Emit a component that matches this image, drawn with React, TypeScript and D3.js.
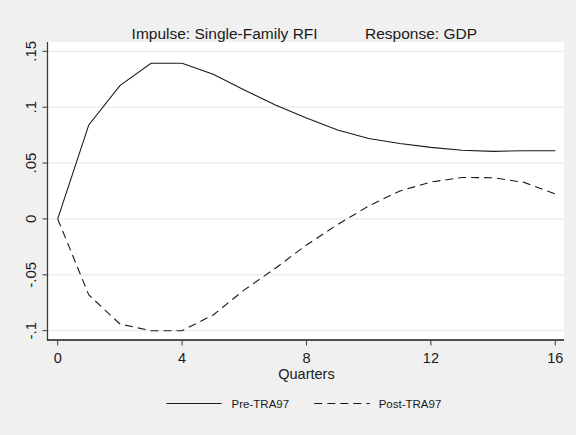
import React from "react";
import * as d3 from "d3";

// Impulse-response values by quarter
const quarters = [0, 1, 2, 3, 4, 5, 6, 7, 8, 9, 10, 11, 12, 13, 14, 15, 16];
const preTRA97 = [0, 0.0841, 0.1193, 0.1393, 0.1393, 0.1295, 0.1154, 0.102, 0.0903, 0.0795, 0.072, 0.0675, 0.064, 0.0615, 0.0605, 0.061, 0.061];
const postTRA97 = [0, -0.068, -0.094, -0.1, -0.1, -0.0859, -0.0635, -0.0441, -0.0233, -0.005, 0.0116, 0.025, 0.033, 0.0371, 0.0369, 0.0327, 0.0224];

const yTicks = [0.15, 0.1, 0.05, 0, -0.05, -0.1];
const yTickLabels = [".15", ".1", ".05", "0", "-.05", "-.1"];
const xTicks = [0, 4, 8, 12, 16];

const titleLeft = "Impulse: Single-Family RFI";
const titleRight = "Response: GDP";
const xAxisTitle = "Quarters";
const seriesNames = ["Pre-TRA97", "Post-TRA97"];

const W = 576;
const H = 435;
const plot = { left: 48, right: 564, top: 42, bottom: 340 };
const font = "Arial, 'Liberation Sans', sans-serif";
const ink = "#1a1a1a";

export default function App() {
  const x = d3.scaleLinear().domain([0, 16]).range([57.7, 555.3]);
  const y = d3.scaleLinear().domain([-0.1, 0.15]).range([330.7, 51.3]);

  const line = d3
    .line<number>()
    .x((_, i) => x(quarters[i]))
    .y((d) => y(d));

  const dash = "8,5";

  return (
    <svg
      width={W}
      height={H}
      style={{ position: "absolute", left: 0, top: 0, display: "block" }}
      fontFamily={font}
    >
      <rect x={0} y={0} width={W} height={H} fill="#f0f0f0" />
      <rect
        x={plot.left}
        y={plot.top}
        width={plot.right - plot.left}
        height={plot.bottom - plot.top}
        fill="#ffffff"
      />

      {/* horizontal grid */}
      {yTicks.map((t) => (
        <line
          key={"g" + t}
          x1={plot.left}
          x2={plot.right}
          y1={y(t)}
          y2={y(t)}
          stroke="#e6e6e6"
          strokeWidth={1}
        />
      ))}

      {/* series */}
      <path d={line(preTRA97) ?? ""} fill="none" stroke={ink} strokeWidth={1.1} />
      <path
        d={line(postTRA97) ?? ""}
        fill="none"
        stroke={ink}
        strokeWidth={1.1}
        strokeDasharray={dash}
      />

      {/* y axis */}
      <line x1={47.5} x2={47.5} y1={plot.top} y2={plot.bottom} stroke="#3a3a3a" strokeWidth={1.3} />
      {yTicks.map((t, i) => (
        <g key={"y" + t}>
          <line x1={42.5} x2={47.5} y1={y(t)} y2={y(t)} stroke="#3a3a3a" strokeWidth={1} />
          <text
            transform={`translate(35.5,${y(t)}) rotate(-90)`}
            textAnchor="middle"
            fontSize={15}
            fill={ink}
          >
            {yTickLabels[i]}
          </text>
        </g>
      ))}

      {/* x axis */}
      <line x1={47} x2={plot.right} y1={340} y2={340} stroke="#1a1a1a" strokeWidth={1.3} />
      {xTicks.map((t) => (
        <g key={"x" + t}>
          <line x1={x(t)} x2={x(t)} y1={340} y2={345.5} stroke="#3a3a3a" strokeWidth={1} />
          <text x={x(t)} y={362.5} textAnchor="middle" fontSize={14.5} fill={ink}>
            {t}
          </text>
        </g>
      ))}
      <text x={306.5} y={379} textAnchor="middle" fontSize={14.5} fill={ink}>
        {xAxisTitle}
      </text>

      {/* titles */}
      <text x={131.6} y={38.6} fontSize={15.5} fill={ink}>
        {titleLeft}
      </text>
      <text x={365} y={38.6} fontSize={15.5} fill={ink}>
        {titleRight}
      </text>

      {/* legend */}
      <line x1={166.5} x2={221.5} y1={403.5} y2={403.5} stroke={ink} strokeWidth={1.1} />
      <text x={231.6} y={407.5} fontSize={11.5} fill={ink}>
        {seriesNames[0]}
      </text>
      <line
        x1={314.3}
        x2={369.8}
        y1={403.5}
        y2={403.5}
        stroke={ink}
        strokeWidth={1.1}
        strokeDasharray={dash}
      />
      <text x={378.7} y={407.5} fontSize={11.5} fill={ink}>
        {seriesNames[1]}
      </text>
    </svg>
  );
}
